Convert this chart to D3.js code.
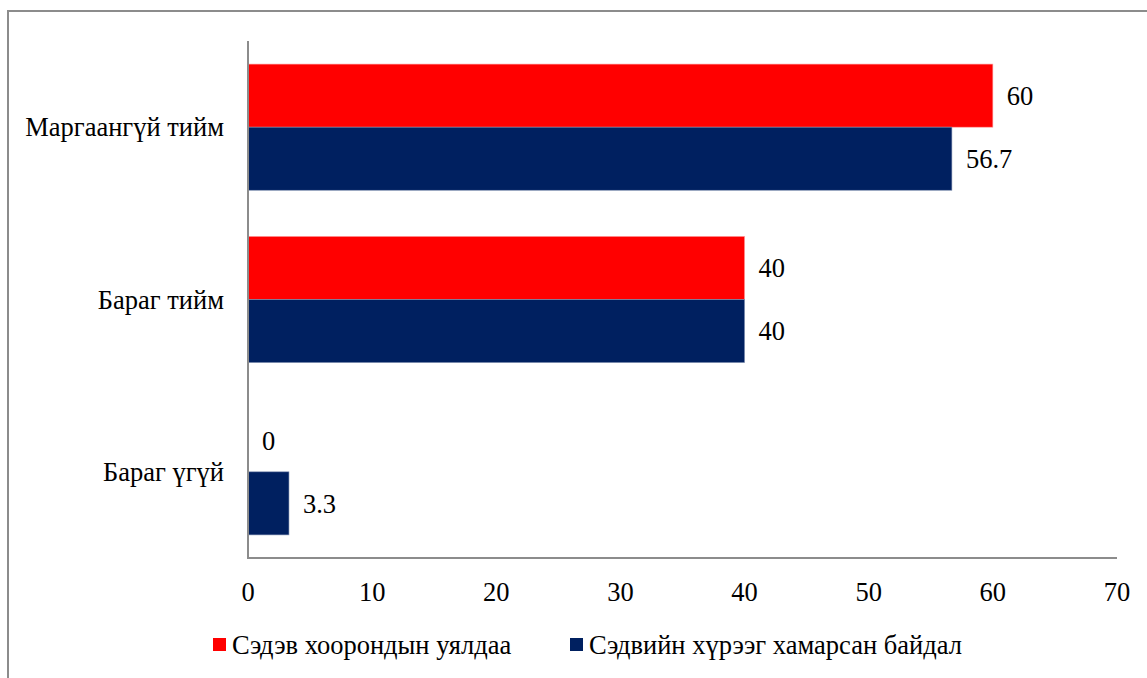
<!DOCTYPE html>
<html>
<head>
<meta charset="utf-8">
<script src="https://cdnjs.cloudflare.com/ajax/libs/d3/7.8.5/d3.min.js"></script>
<style>
  body { margin: 0; background: #fff; }
</style>
</head>
<body>
<script>
// categories top to bottom
var categories = ["Маргаангүй тийм", "Бараг тийм", "Бараг үгүй"];
var seriesNames = ["Сэдэв хоорондын уялдаа", "Сэдвийн хүрээг хамарсан байдал"];
var seriesColors = ["#ff0000", "#002060"];
var relation = [60, 40, 0];
var coverage = [56.7, 40, 3.3];
var xTicks = [0, 10, 20, 30, 40, 50, 60, 70];

var W = 1147, H = 678;
var fs = 26.5;
var fam = "Liberation Serif";
var svg = d3.select("body").append("svg").attr("width", W).attr("height", H);

function label(sel){
  return sel.attr("font-family", fam).attr("font-size", fs).attr("fill", "#000");
}

// outer frame (right and bottom run off the picture)
svg.append("rect")
  .attr("x", 8).attr("y", 11)
  .attr("width", W + 10).attr("height", H + 10)
  .attr("fill", "none").attr("stroke", "#8c8c8c").attr("stroke-width", 2);

var plotL = 248, plotR = 1117, plotT = 41, plotB = 558;

var x = d3.scaleLinear().domain([0, 70]).range([plotL, plotR]);
var y = d3.scaleBand().domain(categories).range([plotT, plotB]).paddingInner(0.268).paddingOuter(0.134);
var inner = d3.scaleBand().domain([0, 1]).range([0, y.bandwidth()]);

var rows = categories.map(function(c, i){
  return {cat: c, vals: [relation[i], coverage[i]]};
});

var g = svg.append("g");
rows.forEach(function(r){
  r.vals.forEach(function(v, k){
    var by = y(r.cat) + inner(k);
    if(v > 0){
      g.append("rect")
        .attr("x", x(0)).attr("y", by)
        .attr("width", x(v) - x(0)).attr("height", inner.bandwidth())
        .attr("fill", seriesColors[k])
        .attr("stroke", k == 0 ? "#ff9999" : "#7f8fb0").attr("stroke-width", 0.6);
    }
    label(g.append("text"))
      .attr("x", x(v) + 14)
      .attr("y", by + inner.bandwidth() / 2)
      .attr("dy", "0.35em")
      .text(v);
  });
});

// axes lines
svg.append("line").attr("x1", plotL).attr("x2", plotL).attr("y1", plotT).attr("y2", plotB)
  .attr("stroke", "#8c8c8c").attr("stroke-width", 2);
svg.append("line").attr("x1", plotL - 1).attr("x2", plotR).attr("y1", plotB).attr("y2", plotB)
  .attr("stroke", "#8c8c8c").attr("stroke-width", 2);

// x tick labels
label(svg.selectAll(".xt").data(xTicks).enter().append("text"))
  .attr("class", "xt")
  .attr("x", function(d){ return x(d); })
  .attr("y", 592).attr("dy", "0.35em")
  .attr("text-anchor", "middle")
  .text(function(d){ return d; });

// category labels
label(svg.selectAll(".cat").data(categories).enter().append("text"))
  .attr("class", "cat")
  .attr("x", 224)
  .attr("y", function(d){ return y(d) + y.bandwidth() / 2; })
  .attr("dy", "0.35em")
  .attr("text-anchor", "end")
  .text(function(d){ return d; });

// legend
var legX = [213, 570];
seriesNames.forEach(function(n, k){
  svg.append("rect").attr("x", legX[k]).attr("y", 638).attr("width", 13).attr("height", 13)
    .attr("fill", seriesColors[k]);
  label(svg.append("text")).attr("x", legX[k] + 19).attr("y", 645).attr("dy", "0.35em")
    .text(n);
});
</script>
</body>
</html>
